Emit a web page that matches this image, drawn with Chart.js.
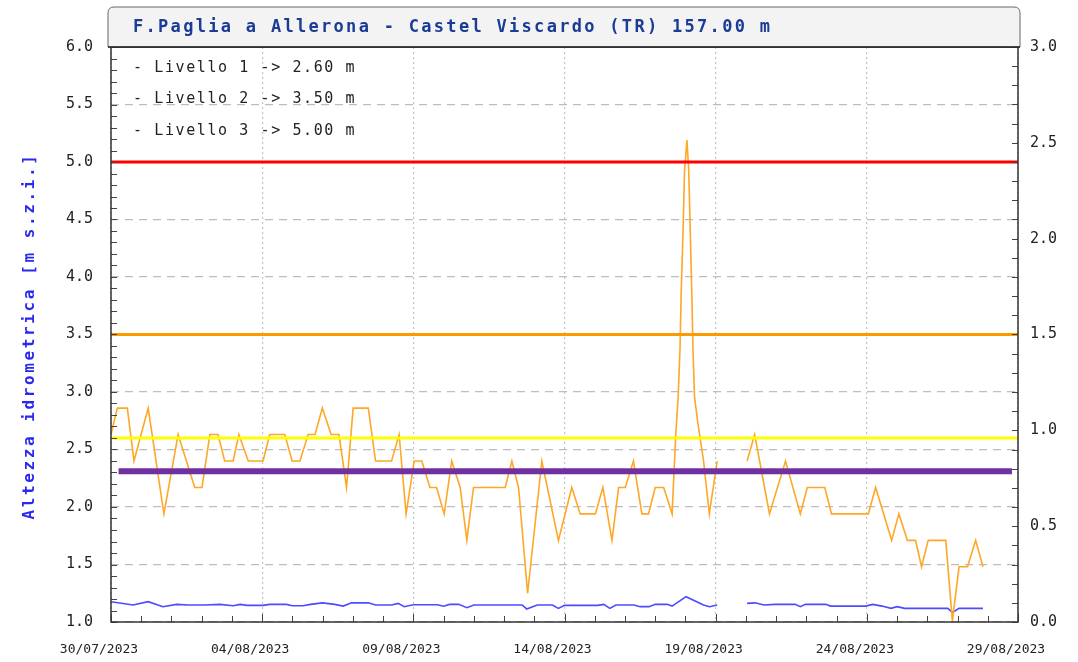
<!DOCTYPE html>
<html>
<head>
<meta charset="utf-8">
<script src="https://cdn.jsdelivr.net/npm/chart.js@4/dist/chart.umd.min.js"></script>
<style>
  body { margin: 0; background: #fff; }
  #box { width: 1078px; height: 662px; }
</style>
</head>
<body>
<div id="box"><canvas id="grafico" width="1078" height="662"></canvas></div>
<script>
// Dati (giorni dal 30/07/2023 00:00)
const etichetteDate = ['30/07/2023', '04/08/2023', '09/08/2023', '14/08/2023', '19/08/2023', '24/08/2023', '29/08/2023'];

// Altezza idrometrica (asse sinistro, m)
const giorniLivello = [0.0, 0.21, 0.54, 0.76, 1.23, 1.75, 2.22, 2.77, 3.01, 3.27, 3.54, 3.76, 4.04, 4.23, 4.54, 5.03, 5.25, 5.75, 5.99, 6.25,
  6.52, 6.75, 6.99, 7.28, 7.54, 7.79, 8.01, 8.51, 8.75, 9.28, 9.53, 9.76, 10.03, 10.28, 10.55, 10.77, 11.02, 11.27, 11.55, 11.77,
  11.99, 13.04, 13.26, 13.48, 13.78, 14.25, 14.80, 15.24, 15.52, 16.02, 16.27, 16.57, 16.79, 17.01, 17.28, 17.56, 17.78, 18.0, 18.28, 18.56,
  18.68, 18.76, 18.82, 18.86, 18.92, 18.97, 19.05, 19.11, 19.16, 19.21, 19.25, 19.30, 19.40, 19.6, 19.79, 20.05, 20.5,
  21.04, 21.29, 21.78, 22.31, 22.80, 23.03, 23.61, 23.83, 25.05, 25.29, 25.82, 26.06, 26.34, 26.61, 26.81, 27.03, 27.61, 27.83, 28.05,
  28.33, 28.60, 28.84];
const livello = [2.63, 2.86, 2.86, 2.40, 2.86, 1.94, 2.63, 2.17, 2.17, 2.63, 2.63, 2.40, 2.40, 2.63, 2.40, 2.40, 2.63, 2.63, 2.40, 2.40,
  2.63, 2.63, 2.86, 2.63, 2.63, 2.17, 2.86, 2.86, 2.40, 2.40, 2.63, 1.94, 2.40, 2.40, 2.17, 2.17, 1.94, 2.40, 2.17, 1.71,
  2.17, 2.17, 2.40, 2.17, 1.25, 2.40, 1.71, 2.17, 1.94, 1.94, 2.17, 1.71, 2.17, 2.17, 2.40, 1.94, 1.94, 2.17, 2.17, 1.94,
  2.63, 2.96, 3.37, 3.87, 4.39, 4.92, 5.19, 4.92, 4.39, 3.87, 3.37, 2.96, 2.75, 2.40, 1.94, 2.40, null,
  2.40, 2.63, 1.94, 2.40, 1.94, 2.17, 2.17, 1.94, 1.94, 2.17, 1.71, 1.94, 1.71, 1.71, 1.48, 1.71, 1.71, 1.01, 1.48,
  1.48, 1.71, 1.48];

// Serie blu (asse destro)
const giorniBlu = [0.0, 0.73, 1.23, 1.72, 2.17, 2.55, 3.1, 3.6, 4.04, 4.27, 4.5, 5.03, 5.25, 5.8, 6.0, 6.35, 6.6, 6.99, 7.4, 7.68,
  7.96, 8.51, 8.75, 9.28, 9.5, 9.7, 10.0, 10.8, 11.0, 11.2, 11.5, 11.77, 12.0, 13.6, 13.75, 14.1, 14.6, 14.8, 15.0, 16.1,
  16.3, 16.5, 16.7, 17.3, 17.5, 17.8, 18.0, 18.4, 18.56, 19.02, 19.6, 19.8, 20.05, 20.5,
  21.04, 21.3, 21.6, 21.97, 22.63, 22.8, 22.97, 23.64, 23.8, 24.96, 25.2, 25.5, 25.8, 26.0, 26.25, 27.68, 27.83, 28.05, 28.84];
const valoriBlu = [0.106, 0.089, 0.106, 0.080, 0.092, 0.089, 0.089, 0.092, 0.085, 0.092, 0.087, 0.087, 0.092, 0.092, 0.085, 0.085, 0.092, 0.100, 0.092, 0.083,
  0.100, 0.100, 0.089, 0.089, 0.097, 0.080, 0.090, 0.090, 0.082, 0.092, 0.092, 0.075, 0.089, 0.089, 0.068, 0.089, 0.089, 0.071, 0.087, 0.087,
  0.092, 0.071, 0.089, 0.089, 0.080, 0.080, 0.092, 0.092, 0.083, 0.132, 0.089, 0.080, 0.089, null,
  0.097, 0.100, 0.089, 0.092, 0.092, 0.080, 0.092, 0.092, 0.083, 0.083, 0.092, 0.083, 0.071, 0.080, 0.071, 0.071, 0.050, 0.071, 0.071];

// Soglie (asse sinistro)
const soglie = [2.60, 3.50, 5.00];
const coloriSoglie = ['#ffff00', '#ff9900', '#ff0000'];
const rigaViola = 2.31;

const titolo = 'F.Paglia a Allerona - Castel Viscardo (TR) 157.00 m';
const titoloAsse = 'Altezza idrometrica [m s.z.i.]';
const mono = '"DejaVu Sans Mono", monospace';

const serie = (xs, ys) => xs.map((x, i) => ({ x: x, y: ys[i] }));

// tacche interne, cornice, titolo e testi
const decorazioni = {
  id: 'decorazioni',
  afterDraw(chart) {
    const { ctx, chartArea: a, scales } = chart;
    ctx.save();
    ctx.strokeStyle = '#444';
    ctx.lineWidth = 1;
    for (let v = 1.0; v <= 6.001; v += 0.1) {
      const y = Math.round(scales.y.getPixelForValue(v)) + 0.5;
      ctx.beginPath(); ctx.moveTo(a.left, y); ctx.lineTo(a.left + 6, y); ctx.stroke();
    }
    for (let v = 0; v <= 3.001; v += 0.1) {
      const y = Math.round(scales.y1.getPixelForValue(v)) + 0.5;
      ctx.beginPath(); ctx.moveTo(a.right, y); ctx.lineTo(a.right - 6, y); ctx.stroke();
    }
    for (let d = 0; d <= 30; d++) {
      const x = Math.round(scales.x.getPixelForValue(d)) + 0.5;
      ctx.beginPath(); ctx.moveTo(x, a.bottom); ctx.lineTo(x, a.bottom - (d % 5 === 0 ? 8 : 6)); ctx.stroke();
    }
    // cornice
    ctx.strokeStyle = '#333';
    ctx.lineWidth = 1.5;
    ctx.strokeRect(a.left, a.top, a.right - a.left, a.bottom - a.top);

    // riquadro titolo
    const r = 6, top = 7;
    ctx.beginPath();
    ctx.moveTo(a.left - 3, a.top);
    ctx.lineTo(a.left - 3, top + r);
    ctx.quadraticCurveTo(a.left - 3, top, a.left - 3 + r, top);
    ctx.lineTo(a.right + 2 - r, top);
    ctx.quadraticCurveTo(a.right + 2, top, a.right + 2, top + r);
    ctx.lineTo(a.right + 2, a.top);
    ctx.closePath();
    ctx.fillStyle = '#f3f3f3';
    ctx.fill();
    ctx.strokeStyle = '#666';
    ctx.lineWidth = 1;
    ctx.stroke();
    ctx.strokeStyle = '#222';
    ctx.lineWidth = 1.5;
    ctx.beginPath(); ctx.moveTo(a.left - 3, a.top); ctx.lineTo(a.right + 2, a.top); ctx.stroke();

    ctx.fillStyle = '#1a3c96';
    ctx.font = 'bold 17px ' + mono;
    ctx.letterSpacing = '2.3px';
    ctx.textBaseline = 'middle';
    ctx.textAlign = 'left';
    ctx.fillText(titolo, 133, 28);

    // legenda soglie
    ctx.fillStyle = '#222';
    ctx.font = '15px ' + mono;
    ctx.letterSpacing = '1.6px';
    soglie.forEach((s, i) => {
      ctx.fillText(`- Livello ${i + 1} -> ${s.toFixed(2)} m`, 133, 68 + i * 31.5);
    });

    // titolo asse sinistro
    ctx.translate(30, 336);
    ctx.rotate(-Math.PI / 2);
    ctx.textAlign = 'center';
    ctx.fillStyle = '#2a2aee';
    ctx.font = 'bold 16px ' + mono;
    ctx.letterSpacing = '2.6px';
    ctx.fillText(titoloAsse, 0, 0);
    ctx.restore();
  }
};

const lineaSoglia = (v, colore, spessore, x0, x1) => ({
  data: [{ x: x0, y: v }, { x: x1, y: v }],
  borderColor: colore, borderWidth: spessore, pointRadius: 0, yAxisID: 'y', order: 0
});

new Chart(document.getElementById('grafico'), {
  type: 'line',
  data: {
    datasets: [
      ...soglie.map((s, i) => lineaSoglia(s, coloriSoglie[i], 3, 0, 30)),
      lineaSoglia(rigaViola, '#7030a0', 6, 0.25, 29.8),
      {
        data: serie(giorniLivello, livello),
        borderColor: '#ffa726', borderWidth: 1.6, pointRadius: 0, tension: 0,
        spanGaps: false, yAxisID: 'y', order: 1
      },
      {
        data: serie(giorniBlu, valoriBlu),
        borderColor: '#4b4bff', borderWidth: 1.6, pointRadius: 0, tension: 0,
        spanGaps: false, yAxisID: 'y1', order: 1
      }
    ]
  },
  options: {
    responsive: false,
    animation: false,
    events: [],
    layout: { padding: { top: 47, left: 0, right: 0, bottom: 0 } },
    plugins: { legend: { display: false }, tooltip: { enabled: false } },
    scales: {
      x: {
        type: 'linear', min: 0, max: 30,
        afterFit: (s) => { s.height = 40; },
        border: { display: false, dash: [2, 3] },
        grid: { drawTicks: false, color: '#c4c4c4', lineWidth: 1.2 },
        ticks: {
          stepSize: 5, autoSkip: false, maxRotation: 0, padding: 20, labelOffset: -12,
          color: '#222', font: { family: mono, size: 13 },
          callback: (v) => etichetteDate[v / 5]
        }
      },
      y: {
        position: 'left', min: 1, max: 6,
        afterFit: (s) => { s.width = 111; },
        border: { display: false, dash: [8, 6] },
        grid: { drawTicks: false, color: '#bdbdbd', lineWidth: 1.2 },
        ticks: {
          stepSize: 0.5, padding: 18, color: '#222', font: { family: mono, size: 15 },
          callback: (v) => v.toFixed(1)
        }
      },
      y1: {
        position: 'right', min: 0, max: 3,
        afterFit: (s) => { s.width = 60; },
        border: { display: false },
        grid: { drawTicks: false, drawOnChartArea: false },
        ticks: {
          stepSize: 0.5, padding: 12, color: '#222', font: { family: mono, size: 15 },
          callback: (v) => v.toFixed(1)
        }
      }
    }
  },
  plugins: [decorazioni]
});
</script>
</body>
</html>
